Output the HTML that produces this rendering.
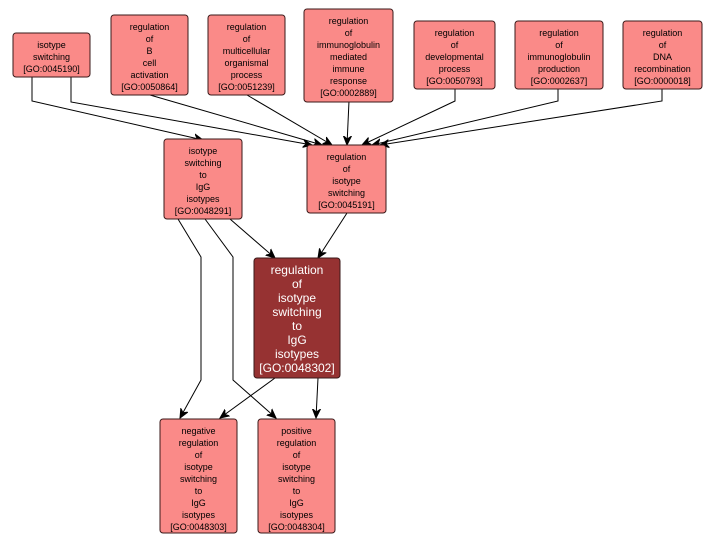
<!DOCTYPE html>
<html><head><meta charset="utf-8"><style>
html,body{margin:0;padding:0;background:#fff;}
svg{display:block;}
text{font-family:"Liberation Sans",sans-serif;font-size:9px;fill:#000;text-anchor:middle;}
.d text{fill:#fff;font-size:12px;}
rect{fill:#fa8a88;stroke:#3a1a1a;stroke-width:1;}
.d rect{fill:#963232;}
path{fill:none;stroke:#000;stroke-width:1;}
</style></head><body>
<svg width="716" height="544" viewBox="0 0 716 544" xmlns="http://www.w3.org/2000/svg">
<defs><marker id="a" markerWidth="10" markerHeight="10" refX="9" refY="5" orient="auto" markerUnits="userSpaceOnUse"><path d="M0,1 L9,5 L0,9 L3,5 Z" style="fill:#000;stroke:#000"/></marker></defs>
<g>
<path d="M32,77 L32,101 L203,140" marker-end="url(#a)"/>
<path d="M71,77 L71,102 L312,145" marker-end="url(#a)"/>
<path d="M150,95 L322,145" marker-end="url(#a)"/>
<path d="M247,95 L332,145" marker-end="url(#a)"/>
<path d="M349,101 L347,145" marker-end="url(#a)"/>
<path d="M455,89 L455,101 L362,145" marker-end="url(#a)"/>
<path d="M558,89 L558,101 L372,145" marker-end="url(#a)"/>
<path d="M662,89 L662,101 L380,145" marker-end="url(#a)"/>
<path d="M230,219 L275,258" marker-end="url(#a)"/>
<path d="M347,213 L318,258" marker-end="url(#a)"/>
<path d="M178,219 L201,257 L201,380 L180,418" marker-end="url(#a)"/>
<path d="M205,219 L233,257 L233,380 L276,418" marker-end="url(#a)"/>
<path d="M275,378 L220,418" marker-end="url(#a)"/>
<path d="M318,378 L316,418" marker-end="url(#a)"/>
</g>
<g><rect x="13" y="33" width="77" height="44" rx="3"/><text x="51.5" y="48">isotype</text><text x="51.5" y="60">switching</text><text x="51.5" y="72">[GO:0045190]</text></g>
<g><rect x="111" y="15" width="77" height="80" rx="3"/><text x="149.5" y="30">regulation</text><text x="149.5" y="42">of</text><text x="149.5" y="54">B</text><text x="149.5" y="66">cell</text><text x="149.5" y="78">activation</text><text x="149.5" y="90">[GO:0050864]</text></g>
<g><rect x="208" y="15" width="77" height="80" rx="3"/><text x="246.5" y="30">regulation</text><text x="246.5" y="42">of</text><text x="246.5" y="54">multicellular</text><text x="246.5" y="66">organismal</text><text x="246.5" y="78">process</text><text x="246.5" y="90">[GO:0051239]</text></g>
<g><rect x="304" y="9" width="89" height="93" rx="3"/><text x="348.5" y="24">regulation</text><text x="348.5" y="36">of</text><text x="348.5" y="48">immunoglobulin</text><text x="348.5" y="60">mediated</text><text x="348.5" y="72">immune</text><text x="348.5" y="84">response</text><text x="348.5" y="96">[GO:0002889]</text></g>
<g><rect x="414" y="21" width="81" height="68" rx="3"/><text x="454.5" y="36">regulation</text><text x="454.5" y="48">of</text><text x="454.5" y="60">developmental</text><text x="454.5" y="72">process</text><text x="454.5" y="84">[GO:0050793]</text></g>
<g><rect x="515" y="21" width="88" height="68" rx="3"/><text x="559" y="36">regulation</text><text x="559" y="48">of</text><text x="559" y="60">immunoglobulin</text><text x="559" y="72">production</text><text x="559" y="84">[GO:0002637]</text></g>
<g><rect x="623" y="21" width="79" height="68" rx="3"/><text x="662.5" y="36">regulation</text><text x="662.5" y="48">of</text><text x="662.5" y="60">DNA</text><text x="662.5" y="72">recombination</text><text x="662.5" y="84">[GO:0000018]</text></g>
<g><rect x="164" y="139" width="78" height="80" rx="3"/><text x="203" y="154">isotype</text><text x="203" y="166">switching</text><text x="203" y="178">to</text><text x="203" y="190">IgG</text><text x="203" y="202">isotypes</text><text x="203" y="214">[GO:0048291]</text></g>
<g><rect x="307" y="145" width="79" height="68" rx="3"/><text x="346.5" y="160">regulation</text><text x="346.5" y="172">of</text><text x="346.5" y="184">isotype</text><text x="346.5" y="196">switching</text><text x="346.5" y="208">[GO:0045191]</text></g>
<g class="d"><rect x="254" y="258" width="86" height="120" rx="3"/><text x="297" y="274">regulation</text><text x="297" y="288">of</text><text x="297" y="302">isotype</text><text x="297" y="316">switching</text><text x="297" y="330">to</text><text x="297" y="344">IgG</text><text x="297" y="358">isotypes</text><text x="297" y="372">[GO:0048302]</text></g>
<g><rect x="160" y="419" width="77" height="114" rx="3"/><text x="198.5" y="434">negative</text><text x="198.5" y="446">regulation</text><text x="198.5" y="458">of</text><text x="198.5" y="470">isotype</text><text x="198.5" y="482">switching</text><text x="198.5" y="494">to</text><text x="198.5" y="506">IgG</text><text x="198.5" y="518">isotypes</text><text x="198.5" y="530">[GO:0048303]</text></g>
<g><rect x="258" y="419" width="77" height="114" rx="3"/><text x="296.5" y="434">positive</text><text x="296.5" y="446">regulation</text><text x="296.5" y="458">of</text><text x="296.5" y="470">isotype</text><text x="296.5" y="482">switching</text><text x="296.5" y="494">to</text><text x="296.5" y="506">IgG</text><text x="296.5" y="518">isotypes</text><text x="296.5" y="530">[GO:0048304]</text></g>
</svg>
</body></html>
